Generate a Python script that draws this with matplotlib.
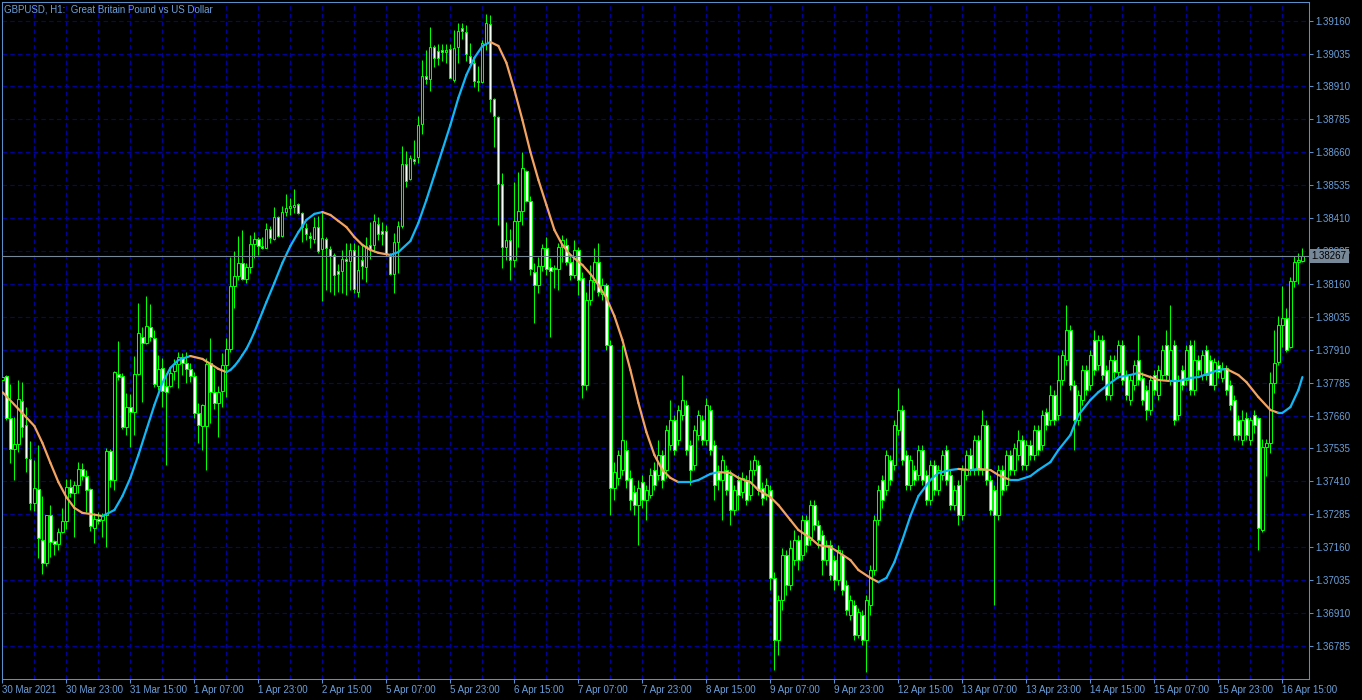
import numpy as np
import matplotlib
matplotlib.use("Agg")
import matplotlib.pyplot as plt
import matplotlib.transforms as mtransforms
from matplotlib.collections import LineCollection

plt.rcParams['font.family'] = ['Liberation Sans', 'DejaVu Sans']

# GBPUSD H1 candles, prices in points (1 point = 0.00001)
opens = [
    137795, 137810, 137651, 137533, 137552, 137715, 137624, 137495, 137328, 137381,
    137187, 137100, 137282, 137183, 137172, 137217, 137259, 137388, 137366, 137396,
    137457, 137430, 137381, 137233, 137267, 137263, 137282, 137525, 137415, 137818,
    137810, 137616, 137692, 137673, 137818, 137958, 137936, 137996, 137955, 137772,
    137841, 137772, 137772, 137829, 137856, 137882, 137860, 137837, 137810, 137670,
    137620, 137620, 137860, 137749, 137708, 137753, 137852, 137913, 138152, 138190,
    138240, 138179, 138224, 138312, 138331, 138304, 138297, 138369, 138331, 138414,
    138342, 138433, 138449, 138452, 138464, 138430, 138373, 138342, 138331, 138376,
    138293, 138331, 138293, 138270, 138209, 138209, 138255, 138247, 138289, 138129,
    138251, 138224, 138308, 138308, 138388, 138361, 138361, 138270, 138198, 138319,
    138380, 138616, 138559, 138635, 138642, 138768, 138950, 138939, 139060, 139045,
    139049, 139041, 139053, 138935, 139060, 139133, 139117, 139026, 139000, 138931,
    138927, 139076, 139148, 138863, 138794, 138540, 138300, 138327, 138251, 138399,
    138437, 138589, 138475, 138205, 138156, 138228, 138297, 138224, 138217, 138217,
    138300, 138308, 138243, 138194, 138289, 138183, 137776, 138099, 138167, 138243,
    138122, 138156, 137928, 137385, 137423, 137453, 137529, 137423, 137369, 137320,
    137407, 137339, 137358, 137453, 137434, 137510, 137453, 137548, 137643, 137567,
    137662, 137700, 137548, 137472, 137586, 137643, 137567, 137681, 137548, 137445,
    137415, 137453, 137434, 137301, 137415, 137369, 137415, 137358, 137453, 137472,
    137385, 137358, 137377, 137043, 136807, 136959, 137130, 137016, 137111, 137187,
    137130, 137263, 137187, 137320, 137244, 137206, 137111, 137168, 137111, 137035,
    137130, 137016, 136902, 136940, 136826, 136902, 136807, 136940, 137073, 137263,
    137415, 137377, 137491, 137472, 137605, 137681, 137510, 137396, 137453, 137434,
    137529, 137434, 137339, 137472, 137377, 137434, 137529, 137434, 137320, 137396,
    137282, 137434, 137510, 137453, 137567, 137453, 137624, 137415, 137377, 137282,
    137453, 137396, 137510, 137453, 137510, 137567, 137472, 137548, 137510, 137605,
    137548, 137673, 137643, 137738, 137662, 137795, 137871, 137985, 137776, 137643,
    137719, 137833, 137776, 137947, 137852, 137947, 137833, 137738, 137871, 137825,
    137928, 137814, 137719, 137776, 137871, 137803, 137757, 137681, 137814, 137738,
    137814, 137928, 137795, 137928, 137662, 137833, 137795, 137928, 137757, 137871,
    137814, 137909, 137871, 137776, 137852, 137803, 137841, 137776, 137719, 137643,
    137567, 137651, 137567, 137662, 137651, 137225, 137540, 137556, 137784, 137863,
    138004, 138031, 137920, 138171, 138243, 138247,
]
highs = [
    137810, 137814, 137780, 137654, 137795, 137787, 137692, 137563, 137491, 137548,
    137354, 137282, 137320, 137187, 137233, 137309, 137419, 137419, 137411, 137483,
    137480, 137453, 137385, 137290, 137293, 137290, 137537, 137533, 137829, 137943,
    137822, 137746, 137742, 137886, 138088, 137996, 138114, 138084, 137985, 137890,
    137879, 137822, 137844, 137875, 137901, 137898, 137901, 137860, 137825, 137708,
    137704, 137879, 137955, 137841, 137772, 137898, 137955, 138262, 138285, 138342,
    138365, 138240, 138346, 138357, 138338, 138338, 138392, 138380, 138452, 138418,
    138456, 138502, 138487, 138521, 138468, 138433, 138392, 138357, 138414, 138418,
    138433, 138338, 138304, 138278, 138236, 138289, 138316, 138316, 138316, 138308,
    138308, 138338, 138395, 138426, 138414, 138395, 138384, 138278, 138354, 138399,
    138684, 138665, 138650, 138707, 138798, 139011, 139049, 139136, 139068, 139072,
    139072, 139072, 139072, 139125, 139152, 139152, 139144, 139076, 139015, 138988,
    139087, 139186, 139182, 138867, 138798, 138582, 138395, 138369, 138547, 138585,
    138661, 138593, 138494, 138240, 138262, 138312, 138338, 138259, 138232, 138316,
    138346, 138335, 138270, 138327, 138300, 138205, 138129, 138232, 138297, 138316,
    138183, 138164, 137947, 137483, 137529, 137928, 137567, 137453, 137396, 137415,
    137434, 137396, 137461, 137483, 137567, 137529, 137624, 137719, 137662, 137700,
    137814, 137719, 137567, 137624, 137681, 137662, 137727, 137700, 137567, 137472,
    137510, 137472, 137453, 137396, 137434, 137445, 137434, 137491, 137510, 137491,
    137407, 137423, 137396, 137066, 136978, 137157, 137149, 137187, 137225, 137206,
    137282, 137282, 137339, 137339, 137263, 137225, 137187, 137187, 137130, 137168,
    137149, 137035, 136978, 136959, 136929, 136921, 136978, 137092, 137282, 137396,
    137434, 137529, 137510, 137643, 137765, 137700, 137529, 137510, 137472, 137548,
    137548, 137453, 137491, 137491, 137472, 137529, 137548, 137453, 137396, 137415,
    137472, 137529, 137537, 137586, 137586, 137681, 137643, 137434, 137396, 137472,
    137472, 137529, 137529, 137556, 137605, 137586, 137567, 137567, 137624, 137624,
    137681, 137689, 137776, 137757, 137890, 137909, 138080, 138004, 137795, 137757,
    137852, 137852, 137909, 137985, 137966, 137966, 137852, 137890, 137890, 137947,
    137947, 137833, 137814, 137871, 137966, 137825, 137776, 137814, 137833, 137852,
    137928, 137985, 138080, 137947, 137814, 137852, 137928, 137947, 137947, 137890,
    137909, 137928, 137890, 137879, 137871, 137863, 137852, 137795, 137738, 137662,
    137681, 137673, 137654, 137681, 137654, 137571, 137571, 137825, 137985, 138038,
    138152, 138069, 138186, 138266, 138278, 138297,
]
lows = [
    137734, 137643, 137480, 137415, 137521, 137578, 137445, 137301, 137297, 137119,
    137058, 137088, 137123, 137130, 137149, 137214, 137229, 137350, 137198, 137366,
    137415, 137293, 137221, 137176, 137248, 137198, 137160, 137388, 137377, 137795,
    137609, 137586, 137540, 137586, 137814, 137711, 137932, 137943, 137768, 137757,
    137692, 137472, 137768, 137795, 137765, 137814, 137784, 137787, 137651, 137556,
    137529, 137453, 137632, 137685, 137578, 137692, 137730, 137901, 138069, 138175,
    138175, 138164, 138202, 138259, 138270, 138293, 138297, 138316, 138327, 138338,
    138338, 138418, 138422, 138430, 138426, 138319, 138327, 138297, 138316, 138278,
    138095, 138137, 138129, 138118, 138129, 138126, 138118, 138137, 138126, 138110,
    138179, 138167, 138255, 138281, 138327, 138308, 138266, 138194, 138126, 138202,
    138373, 138528, 138555, 138616, 138620, 138730, 138920, 138893, 138984, 138992,
    139007, 139000, 138943, 138927, 139000, 139091, 139007, 138992, 138908, 138893,
    138924, 139049, 138813, 138680, 138384, 138221, 138251, 138175, 138224, 138300,
    138384, 138471, 138194, 138012, 138126, 138209, 138194, 137958, 138145, 138137,
    138243, 138232, 138175, 138183, 138118, 137727, 137757, 138080, 138137, 138114,
    138099, 137909, 137282, 137339, 137396, 137434, 137385, 137301, 137282, 137168,
    137309, 137263, 137347, 137377, 137415, 137385, 137423, 137529, 137510, 137548,
    137643, 137510, 137396, 137453, 137567, 137548, 137548, 137510, 137339, 137377,
    137263, 137358, 137244, 137282, 137301, 137347, 137320, 137339, 137434, 137358,
    137320, 137339, 136997, 136693, 136750, 136921, 136978, 136997, 137092, 137073,
    137111, 137141, 137168, 137225, 137157, 137054, 137092, 137035, 136997, 137016,
    136978, 136902, 136883, 136807, 136815, 136788, 136685, 136902, 137054, 137244,
    137309, 137358, 137396, 137453, 137586, 137472, 137377, 137377, 137396, 137415,
    137396, 137320, 137320, 137358, 137358, 137415, 137396, 137301, 137301, 137244,
    137263, 137415, 137434, 137434, 137434, 137434, 137396, 137282, 136940, 137263,
    137358, 137377, 137434, 137434, 137491, 137453, 137453, 137491, 137491, 137510,
    137529, 137605, 137624, 137624, 137643, 137776, 137852, 137757, 137529, 137624,
    137700, 137738, 137757, 137814, 137833, 137795, 137719, 137719, 137803, 137803,
    137776, 137719, 137700, 137757, 137776, 137700, 137643, 137662, 137738, 137719,
    137795, 137795, 137776, 137624, 137643, 137757, 137776, 137738, 137738, 137814,
    137795, 137795, 137776, 137757, 137803, 137787, 137738, 137681, 137567, 137567,
    137548, 137567, 137548, 137594, 137149, 137217, 137430, 137518, 137746, 137852,
    137920, 137901, 137917, 138148, 138160, 138243,
]
closes = [
    137806, 137651, 137533, 137552, 137723, 137616, 137499, 137328, 137385, 137195,
    137100, 137282, 137179, 137172, 137217, 137259, 137388, 137366, 137396, 137457,
    137430, 137377, 137240, 137267, 137259, 137282, 137525, 137415, 137825, 137806,
    137616, 137692, 137673, 137818, 137974, 137936, 138000, 137958, 137780, 137837,
    137753, 137749, 137822, 137856, 137882, 137860, 137837, 137810, 137670, 137624,
    137700, 137856, 137749, 137708, 137749, 137852, 137913, 138152, 138190, 138240,
    138179, 138224, 138312, 138331, 138304, 138297, 138369, 138335, 138414, 138342,
    138433, 138449, 138456, 138460, 138430, 138376, 138350, 138335, 138376, 138285,
    138335, 138297, 138266, 138194, 138198, 138255, 138247, 138289, 138141, 138213,
    138228, 138304, 138293, 138399, 138350, 138350, 138274, 138198, 138319, 138380,
    138616, 138551, 138639, 138627, 138764, 138950, 138939, 139060, 139019, 139019,
    139041, 139049, 138943, 139057, 139121, 139121, 139034, 139000, 138931, 138927,
    139076, 139152, 138863, 138798, 138540, 138300, 138327, 138251, 138399, 138437,
    138601, 138475, 138217, 138156, 138228, 138297, 138217, 138209, 138221, 138300,
    138327, 138243, 138194, 138289, 138175, 137776, 138099, 138175, 138243, 138129,
    138156, 137928, 137385, 137445, 137510, 137567, 137415, 137339, 137320, 137385,
    137339, 137377, 137434, 137396, 137510, 137415, 137605, 137643, 137529, 137681,
    137719, 137529, 137453, 137605, 137662, 137567, 137700, 137529, 137396, 137415,
    137491, 137377, 137301, 137377, 137358, 137423, 137339, 137453, 137491, 137377,
    137347, 137396, 137043, 136807, 136959, 137130, 137016, 137157, 137187, 137111,
    137263, 137168, 137320, 137244, 137187, 137111, 137168, 137054, 137035, 137149,
    136997, 136921, 136959, 136826, 136913, 136807, 136959, 137073, 137263, 137377,
    137339, 137510, 137415, 137624, 137681, 137491, 137396, 137491, 137415, 137529,
    137415, 137339, 137472, 137377, 137453, 137510, 137415, 137320, 137377, 137282,
    137453, 137510, 137453, 137567, 137453, 137624, 137415, 137301, 137282, 137453,
    137377, 137510, 137453, 137537, 137567, 137472, 137548, 137510, 137605, 137529,
    137662, 137624, 137738, 137643, 137795, 137890, 137985, 137776, 137643, 137738,
    137833, 137757, 137890, 137833, 137947, 137814, 137738, 137871, 137825, 137928,
    137795, 137738, 137795, 137852, 137795, 137719, 137681, 137795, 137757, 137833,
    137909, 137814, 137909, 137643, 137795, 137776, 137909, 137757, 137871, 137833,
    137890, 137814, 137776, 137863, 137825, 137841, 137757, 137700, 137586, 137586,
    137643, 137586, 137643, 137624, 137233, 137540, 137556, 137784, 137860, 138004,
    138031, 137909, 138171, 138243, 138251, 138267,
]

# smoothed moving average, read at these bar numbers
ma_bars = [0, 4, 8, 10, 12, 14, 16, 18, 20, 22, 25, 28, 30, 32, 34, 36, 38, 40, 42, 44,
           47, 50, 54, 56, 57, 58, 59, 60, 61, 62, 63, 64, 65, 66, 68, 70, 72, 74, 76, 78,
           80, 82, 84, 86, 88, 90, 92, 94, 97, 99, 102, 104, 106, 108, 110, 112, 114, 116,
           118, 120, 122, 124, 126, 128, 130, 132, 134, 136, 138, 140, 142, 145, 147, 149,
           151, 153, 155, 157, 159, 161, 163, 165, 167, 169, 172, 174, 177, 179, 182, 184,
           187, 189, 192, 194, 197, 199, 202, 204, 207, 209, 212, 214, 217, 219, 221, 223,
           225, 227, 229, 232, 234, 237, 239, 242, 244, 247, 249, 252, 254, 257, 259, 262,
           264, 267, 269, 272, 274, 277, 279, 282, 284, 287, 289, 292, 294, 297, 299, 302,
           304, 306, 309, 311, 314, 317, 319, 320, 322, 324, 325]
ma_pts = [137749, 137685, 137620, 137556, 137480, 137407, 137350, 137309, 137290, 137286,
          137278, 137301, 137354, 137423, 137510, 137605, 137700, 137784, 137841, 137871,
          137886, 137875, 137837, 137825, 137833, 137848, 137867, 137890, 137913, 137943,
          137977, 138015, 138053, 138091, 138164, 138240, 138304, 138357, 138403, 138426,
          138433, 138422, 138399, 138376, 138338, 138308, 138289, 138278, 138270, 138281,
          138323, 138392, 138479, 138574, 138669, 138764, 138867, 138954, 139019, 139064,
          139079, 139064, 139000, 138897, 138783, 138661, 138555, 138460, 138365, 138308,
          138270, 138232, 138198, 138156, 138107, 138038, 137947, 137833, 137708, 137597,
          137510, 137453, 137423, 137407, 137407, 137415, 137438, 137445, 137442, 137423,
          137407, 137377, 137350, 137320, 137263, 137225, 137195, 137168, 137160, 137141,
          137111, 137073, 137043, 137027, 137043, 137103, 137187, 137278, 137354, 137415,
          137442, 137453, 137457, 137453, 137457, 137453, 137434, 137415, 137415, 137430,
          137453, 137483, 137529, 137586, 137662, 137719, 137749, 137784, 137806, 137814,
          137822, 137806, 137795, 137791, 137791, 137803, 137806, 137822, 137833, 137837,
          137814, 137787, 137730, 137681, 137670, 137670, 137692, 137757, 137806]

last_price = 1.38267
price_ticks = [1.36785, 1.36910, 1.37035, 1.37160, 1.37285, 1.37410, 1.37535, 1.37660,
               1.37785, 1.37910, 1.38035, 1.38160, 1.38285, 1.38410, 1.38535, 1.38660,
               1.38785, 1.38910, 1.39035, 1.39160]
tick_labels = ["30 Mar 2021", "30 Mar 23:00", "31 Mar 15:00", "1 Apr 07:00", "1 Apr 23:00",
               "2 Apr 15:00", "5 Apr 07:00", "5 Apr 23:00", "6 Apr 15:00", "7 Apr 07:00",
               "7 Apr 23:00", "8 Apr 15:00", "9 Apr 07:00", "9 Apr 23:00", "12 Apr 15:00",
               "13 Apr 07:00", "13 Apr 23:00", "14 Apr 15:00", "15 Apr 07:00", "15 Apr 23:00",
               "16 Apr 15:00"]
title = "GBPUSD, H1:  Great Britain Pound vs US Dollar"

BG = "black"
LIME = "#00ff00"
GRID = "#00009a"
AXC = "#5b8fc8"
TXT = "#6aa0dc"
MA_UP = "#10b8f8"
MA_DN = "#f4a460"
PRICE_LINE = "#778899"

o = np.array(opens) / 1e5
h = np.array(highs) / 1e5
l = np.array(lows) / 1e5
c = np.array(closes) / 1e5
x = np.arange(len(o))

fig = plt.figure(figsize=(13.62, 7.0), dpi=100, facecolor=BG)
ax = fig.add_axes([2 / 1362, 21 / 700, 1307 / 1362, 677 / 700], facecolor=BG)

# grid: every 8 bars, labels every 16
ax.set_xticks(x[::16])
ax.set_xticks(x[8::16], minor=True)
ax.set_xticklabels(tick_labels)
for lab in ax.get_xticklabels():
    lab.set_horizontalalignment("left")
ax.yaxis.tick_right()
ax.set_yticks(price_ticks)
ax.set_yticklabels(["%.5f" % p for p in price_ticks])
ax.grid(True, which="both", axis="x", color=GRID, lw=0.8, ls=(0, (4, 3)))
ax.grid(True, which="major", axis="y", color=GRID, lw=0.8, ls=(0, (4, 3)))
ax.set_axisbelow(True)

ax.tick_params(axis="both", which="major", direction="out", length=3, width=0.75,
               color=AXC, labelcolor=TXT, labelsize=7, pad=1.5)
ax.tick_params(axis="both", which="minor", length=0)
for sp in ax.spines.values():
    sp.set_color(AXC)
    sp.set_linewidth(0.75)

# candles: bullish bodies black, bearish bodies white, lime outline
ax.vlines(x, l, h, color=LIME, lw=0.75, zorder=2)
body_lo = np.minimum(o, c)
body_hi = np.maximum(o, c)
faces = np.where(c >= o, "black", "white")
ax.bar(x, body_hi - body_lo, bottom=body_lo, width=0.55, color=faces,
       edgecolor=LIME, linewidth=0.75, zorder=3)

# moving average coloured by direction
mx = np.array(ma_bars)
my = np.array(ma_pts) / 1e5
segs = [[(mx[i], my[i]), (mx[i + 1], my[i + 1])] for i in range(len(mx) - 1)]
cols = [MA_UP if my[i + 1] >= my[i] else MA_DN for i in range(len(mx) - 1)]
ax.add_collection(LineCollection(segs, colors=cols, linewidths=1.6,
                                 capstyle="round", joinstyle="round", zorder=4))

# current price line and label
ax.axhline(last_price, color=PRICE_LINE, lw=0.8, zorder=5)
trans = mtransforms.blended_transform_factory(ax.transAxes, ax.transData)
ax.text(1.0018, last_price, "%.5f" % last_price, transform=trans, ha="left", va="center",
        fontsize=7, color="black", zorder=6, clip_on=False,
        bbox=dict(facecolor=PRICE_LINE, edgecolor="none", pad=1.6))

ax.set_xlim(-0.1, -0.1 + 1307 / 4)
ax.set_ylim(1.36659, 1.39231)

fig.text(4 / 1362, 1 - 9 / 700, title, ha="left", va="center", fontsize=7, color=TXT)

fig.savefig("out.png", dpi=100, facecolor=BG)
